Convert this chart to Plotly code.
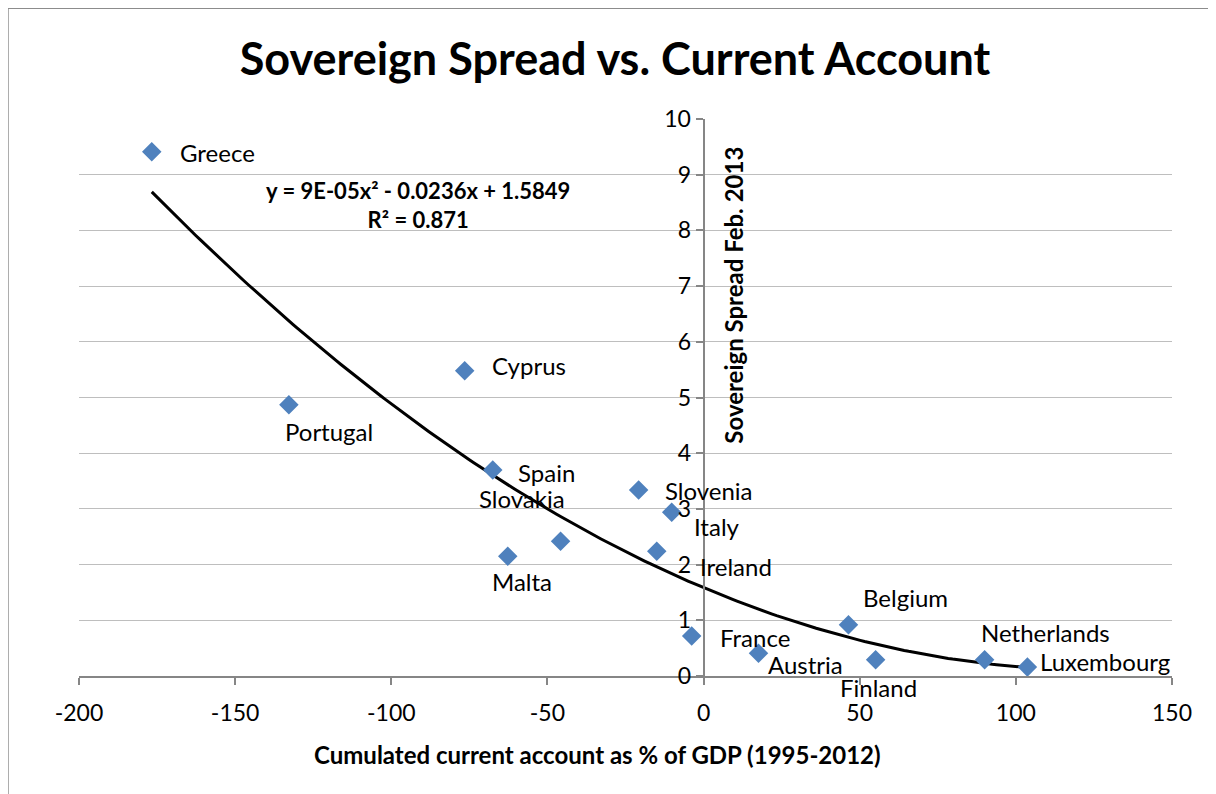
import numpy as np
import plotly.graph_objects as go

# ---- data ----
countries = ["Greece", "Portugal", "Cyprus", "Spain", "Malta", "Slovakia", "Slovenia",
             "Italy", "Ireland", "France", "Austria", "Belgium", "Finland", "Netherlands",
             "Luxembourg"]
current_account = [-176.7, -132.8, -76.5, -67.5, -62.7, -45.8, -20.8,
                   -10.2, -15.0, -3.8, 17.6, 46.4, 55.1, 90.0, 103.7]
spread = [9.41, 4.87, 5.48, 3.70, 2.15, 2.42, 3.34,
          2.94, 2.24, 0.72, 0.41, 0.92, 0.29, 0.29, 0.16]
label_text = ["Greece", "Portugal", "Cyprus", "Spain", "Malta", "Slovakia", "Slovenia",
              "Italy", "Ireland", "France", "Austria", "Belgium", "Finland", "Netherlands",
              "Luxembourg"]
x_ticks = [-200, -150, -100, -50, 0, 50, 100, 150]
x_tick_text = ["-200", "-150", "-100", "-50", "0", "50", "100", "150"]
y_ticks = [0, 1, 2, 3, 4, 5, 6, 7, 8, 9, 10]
equation_text = "y = 9E-05x² - 0.0236x + 1.5849<br>R² = 0.871"

# ---- label placement styles (anchor, xshift px, yshift px) ----
label_style = [("left", 26, -1), ("center", 40, -27), ("left", 25, 5), ("left", 23, -3),
               ("center", 14, -25), ("center", -39, 43), ("left", 24, -1), ("left", 20, -14),
               ("left", 41, -15), ("left", 26, -2), ("left", 7, -11), ("left", 13, 27),
               ("center", 3, -28), ("left", -6, 27), ("left", 11, 6)]

FONT = "Lato"
x_min, x_max = -200, 150

# polynomial trendline (order 2) fitted to the data
coef = np.polyfit(current_account, spread, 2)
xs = np.linspace(min(current_account), max(current_account), 200)
ys = np.polyval(coef, xs)

fig = go.Figure()
fig.add_trace(go.Scatter(x=xs, y=ys, mode="lines",
                         line=dict(color="black", width=3), hoverinfo="skip",
                         showlegend=False))
fig.add_trace(go.Scatter(x=current_account, y=spread, mode="markers",
                         marker=dict(symbol="diamond", size=15, color="#4F81BD"),
                         text=countries, showlegend=False))

for xv, yv, t, (anc, dx, dy) in zip(current_account, spread, label_text, label_style):
    fig.add_annotation(x=xv, y=yv, text=t, showarrow=False, xanchor=anc, yanchor="middle",
                       xshift=dx, yshift=dy, font=dict(family=FONT, size=24, color="#000000"))

fig.add_annotation(x=-91.5, y=8.45, text=equation_text, showarrow=False, align="center",
                   font=dict(family=FONT, size=22, color="#000000", weight="bold"))

# y-axis title, right of the axis line
fig.add_annotation(x=0, y=6.83, text="<b>Sovereign Spread Feb. 2013</b>", textangle=-90,
                   showarrow=False, xanchor="left", xshift=13,
                   font=dict(family=FONT, size=24, color="#000000"))
# x-axis title
fig.add_annotation(xref="paper", yref="paper", x=0.474, y=-0.17,
                   text="<b>Cumulated current account as % of GDP (1995-2012)</b>",
                   showarrow=False, font=dict(family=FONT, size=24, color="#000000"))

# chart border
fig.add_shape(type="rect", xref="paper", yref="paper", x0=-0.065, x1=1.0366, y0=-0.4, y1=1.199,
              line=dict(color="#8C8C8C", width=1.5), fillcolor="rgba(0,0,0,0)", layer="below")

fig.update_layout(
    width=1216, height=794,
    margin=dict(l=71, r=52, t=111, b=126),
    paper_bgcolor="white", plot_bgcolor="white",
    title=dict(text="<b>Sovereign Spread vs. Current Account</b>", x=0.4904, xanchor="center",
               y=0.935, yanchor="middle", xref="paper",
               font=dict(family=FONT, size=45, color="#000000")),
    xaxis=dict(range=[x_min, x_max], tickvals=x_ticks, ticktext=x_tick_text, showgrid=False,
               zeroline=False, showline=True, linecolor="#868686", linewidth=2, ticks="outside",
               ticklen=7, tickcolor="#868686", tickwidth=1.5, ticklabelstandoff=8,
               tickfont=dict(family=FONT, size=23, color="#000000")),
    yaxis=dict(range=[0, 10], tickvals=y_ticks, showgrid=True, gridcolor="#BEBEBE", gridwidth=1,
               zeroline=False, showline=True, linecolor="#868686", linewidth=2,
               anchor="free", position=(0 - x_min) / (x_max - x_min), ticks="outside",
               ticklen=7, tickcolor="#868686", tickwidth=1.5,
               tickfont=dict(family=FONT, size=23, color="#000000")),
    font=dict(family=FONT),
)

fig.write_html("out.html")
